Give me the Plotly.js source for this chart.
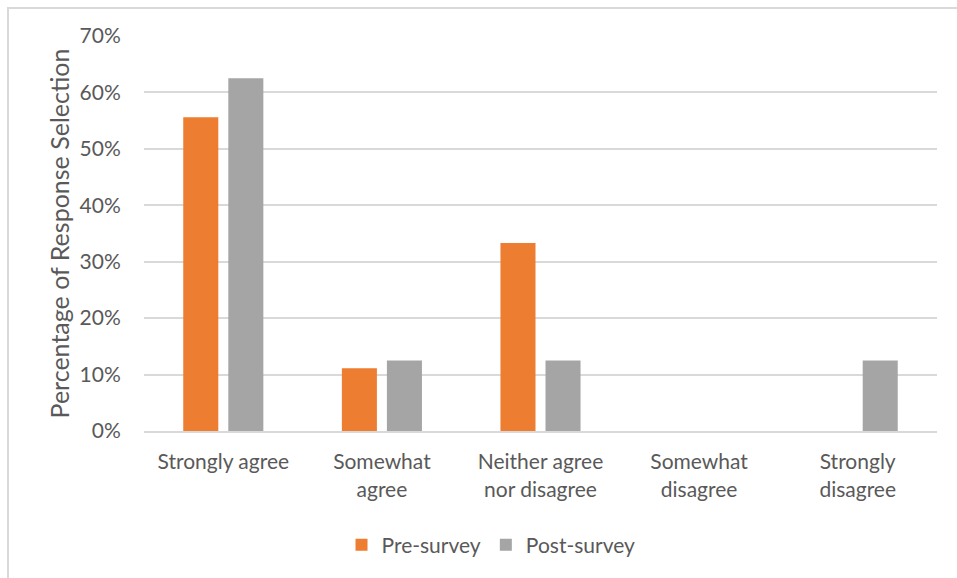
<!DOCTYPE html>
<html>
<head>
<meta charset="utf-8">
<script src="https://cdn.plot.ly/plotly-3.0.1.min.js"></script>
<style>
  html, body { margin: 0; padding: 0; background: #ffffff; overflow: hidden; }
  #frame { position: absolute; left: 7px; top: 7px; width: 1000px; height: 620px;
           border: 2px solid #d9d9d9; box-sizing: border-box; }
  #chart { position: absolute; left: 0; top: 0; width: 957px; height: 578px; }
</style>
</head>
<body>
<div id="frame"></div>
<div id="chart"></div>
<script>
// Survey responses, share of respondents per answer
const categories = ["Strongly agree", "Somewhat<br>agree", "Neither agree<br>nor disagree",
                    "Somewhat<br>disagree", "Strongly<br>disagree"];
const preSurvey  = [0.556, 0.111, 0.333, 0, 0];
const postSurvey = [0.625, 0.125, 0.125, 0, 0.125];
const seriesNames = ["Pre-survey", "Post-survey"];

const textColor = "#595959";
const family = "Lato, 'Open Sans', sans-serif";
const tickFont = { family: family, size: 21, color: textColor };

const traces = [
  { type: "bar", name: seriesNames[0], x: categories, y: preSurvey,
    marker: { color: "#ED7D31" }, hoverinfo: "skip" },
  { type: "bar", name: seriesNames[1], x: categories, y: postSurvey,
    marker: { color: "#A5A5A5" }, hoverinfo: "skip" }
];

const layout = {
  width: 957, height: 578,
  margin: { l: 144, r: 20, t: 36, b: 147 },
  paper_bgcolor: "rgba(0,0,0,0)",
  plot_bgcolor: "rgba(0,0,0,0)",
  font: tickFont,
  barmode: "group",
  bargap: 0.432,
  bargroupgap: 0.222,
  showlegend: true,
  legend: {
    orientation: "h", x: 0.4376, xanchor: "center", y: -0.289, yanchor: "middle",
    font: { family: family, size: 21, color: textColor },
    traceorder: "normal"
  },
  xaxis: {
    type: "category",
    showgrid: false,
    showline: true, linecolor: "#d9d9d9", linewidth: 2,
    ticks: "outside", ticklen: 11, tickcolor: "rgba(0,0,0,0)",
    tickfont: tickFont,
    fixedrange: true
  },
  yaxis: {
    range: [0, 0.7], dtick: 0.1, tickformat: ".0%",
    showgrid: true, gridcolor: "#d9d9d9", gridwidth: 2,
    zeroline: false, showline: false,
    ticks: "outside", ticklen: 18, tickcolor: "rgba(0,0,0,0)",
    tickfont: tickFont,
    title: { text: "Percentage of Response Selection", standoff: 2,
             font: { family: family, size: 25, color: textColor } },
    fixedrange: true
  }
};

Plotly.newPlot("chart", traces, layout, { displayModeBar: false, staticPlot: true });
</script>
</body>
</html>
